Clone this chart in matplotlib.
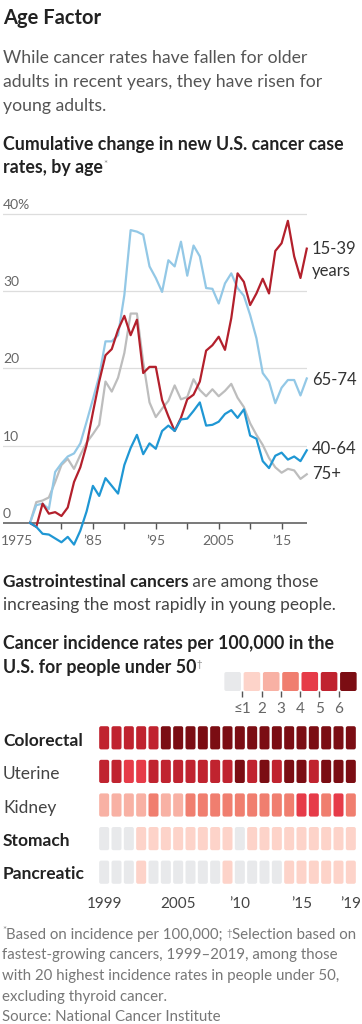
import numpy as np
import matplotlib
matplotlib.use('Agg')
import matplotlib.pyplot as plt
from matplotlib.patches import FancyBboxPatch
from matplotlib.colors import ListedColormap

plt.rcParams['font.family'] = ['Lato', 'DejaVu Sans']

# cumulative change in new cancer case rates, %
years = np.arange(1975, 2020)
age_15_39 = [0, -0.5, 2.5, 1.2, 1.4, 0.9, 2.0, 5.3, 7.2, 10.1,
             14.3, 18.3, 21.7, 22.5, 25.0, 26.8, 24.3, 26.3, 19.4, 20.2,
             20.2, 15.9, 13.8, 11.9, 13.6, 16.0, 16.6, 18.3, 22.3, 23.0,
             24.1, 22.4, 26.5, 32.3, 31.2, 28.2, 29.7, 31.6, 29.7, 35.2,
             36.2, 39.1, 34.5, 31.7, 35.5]
age_40_64 = [0, -0.5, -1.4, -1.5, -2.0, -2.5, -1.8, -2.8, -1.0, 1.5,
             4.8, 3.5, 5.8, 4.8, 3.8, 7.5, 9.7, 11.4, 8.9, 10.3,
             9.6, 11.9, 12.6, 11.9, 13.4, 13.5, 14.5, 15.6, 12.6, 12.7,
             13.1, 14.1, 14.6, 13.6, 14.7, 11.3, 10.9, 8.0, 7.1, 8.7,
             9.1, 8.2, 8.6, 8.0, 9.4]
age_65_74 = [0, 2.3, 2.5, 1.8, 6.6, 7.7, 8.6, 9.0, 10.3, 13.1,
             16.0, 19.0, 23.5, 23.5, 24.3, 29.5, 37.9, 37.7, 37.3, 33.2,
             31.7, 29.9, 34.0, 33.2, 36.4, 32.0, 35.9, 34.5, 30.4, 30.3,
             28.4, 31.0, 32.3, 30.4, 29.4, 26.9, 23.9, 19.4, 18.3, 15.5,
             17.5, 18.5, 18.5, 16.5, 18.7]
age_75_up = [0, 2.7, 2.9, 3.3, 5.3, 7.5, 8.3, 7.0, 8.8, 10.4,
             11.5, 12.7, 18.3, 17.0, 18.8, 22.0, 27.1, 27.1, 20.8, 15.6,
             13.7, 14.8, 15.8, 17.8, 16.0, 16.3, 18.6, 17.2, 16.4, 17.3,
             16.4, 17.1, 18.0, 16.2, 15.0, 12.9, 11.4, 10.1, 8.4, 7.2,
             6.5, 7.0, 6.8, 5.7, 6.3]

# incidence per 100,000 under 50, as legend bin (0 = <=1 ... 6 = 6+)
hm_years = np.arange(1999, 2020)
cancers = ['Colorectal', 'Uterine', 'Kidney', 'Stomach', 'Pancreatic']
bold_rows = [True, False, False, True, True]
colorectal = [5, 5, 5, 5, 5, 6, 6, 6, 6, 6, 6, 6, 6, 6, 6, 6, 6, 6, 6, 6, 6]
uterine = [5, 5, 4, 4, 5, 5, 5, 5, 5, 5, 5, 6, 5, 6, 5, 6, 6, 5, 6, 6, 6]
kidney = [2, 2, 2, 2, 3, 2, 2, 3, 3, 3, 3, 3, 3, 3, 3, 3, 4, 4, 3, 4, 3]
stomach = [0, 0, 0, 1, 1, 1, 1, 1, 1, 1, 1, 0, 1, 1, 1, 1, 1, 1, 1, 1, 1]
pancreatic = [0, 0, 0, 1, 0, 0, 0, 0, 0, 0, 1, 0, 0, 0, 0, 1, 1, 1, 1, 1, 1]
legend_labels = ['\u22641', '2', '3', '4', '5', '6']
level_colors = ['#e8e9eb', '#fdd3c9', '#f8b1a4', '#f07e6f', '#e63b48', '#c0232f', '#7b0d13']
cmap = ListedColormap(level_colors)

W, H = 362, 1024
fig = plt.figure(figsize=(W / 100, H / 100), dpi=100)


def px_rect(left, top, right, bottom):
    return [left / W, 1 - bottom / H, (right - left) / W, (bottom - top) / H]


# background axes in pixel coords, for all the loose text
bg = fig.add_axes([0, 0, 1, 1])
bg.set_xlim(0, W)
bg.set_ylim(H, 0)
bg.axis('off')

dark = '#222222'
mid = '#444444'
grey = '#666666'

bg.text(3, 24, 'Age Factor', fontsize=14.5, weight='bold', color=dark)
for y, s in zip([63, 87, 111], ['While cancer rates have fallen for older',
                                'adults in recent years, they have risen for',
                                'young adults.']):
    bg.text(3, y, s, fontsize=12.7, color='#555555')

bg.text(3, 150, 'Cumulative change in new U.S. cancer case', fontsize=12.8, weight='bold', color=dark)
t = bg.text(3, 173, 'rates, by age', fontsize=12.8, weight='bold', color=dark)
bg.annotate('*', xy=(1, 0.95), xycoords=t, va='top', fontsize=7, color='#888888')

# line chart
x0 = 1975 - 27 / 6.29
x1 = 1975 + 277 / 6.29
ax = fig.add_axes(px_rect(3, 210, 307, 550))
ax.patch.set_alpha(0)
ax.set_xlim(x0, x1)
ax.set_ylim(-3.5, 40.5)
for s in ax.spines.values():
    s.set_visible(False)
for v in [10, 20, 30, 40]:
    ax.axhline(v, color='#dddddd', lw=0.9, zorder=0)
ax.axhline(0, color='#555555', lw=1.1, zorder=1)
for v, s in zip([0, 10, 20, 30, 40], ['0', '10', '20', '30', '40%']):
    ax.text(x0, v + 0.4, s, fontsize=10, color=grey, va='bottom', ha='left')

ax.plot(years, age_75_up, color='#bdbdbd', lw=1.6, clip_on=False, zorder=2)
ax.plot(years, age_65_74, color='#93c8e6', lw=1.6, clip_on=False, zorder=3)
ax.plot(years, age_15_39, color='#b3202c', lw=1.6, clip_on=False, zorder=4)
ax.plot(years, age_40_64, color='#1f97d4', lw=1.6, clip_on=False, zorder=5)

lx = 1975 + 282 / 6.29
lab = dict(fontsize=12, color='#333333', va='center', clip_on=False)
ax.text(lx, 35.5, '15-39', **lab)
ax.text(lx, 32.6, 'years', **lab)
ax.text(lx, 18.5, '65-74', **lab)
ax.text(lx, 9.6, '40-64', **lab)
ax.text(lx, 6.3, '75+', **lab)

ax.set_yticks([])
ax.set_xticks(np.arange(1980, 2020, 5))
ax.set_xticklabels(['', '\u201985', '', '\u201995', '', '2005', '', '\u201915'])
ax.tick_params(axis='x', length=4, width=1, color='#555555', labelsize=10,
               labelcolor=grey, pad=5)
ax.xaxis.set_ticks_position('bottom')
ax.spines['bottom'].set_position(('data', 0))
ax.text(x0 - 0.3, -1.6, '1975', fontsize=10, color=grey, va='top', ha='left')

# second part
t = bg.text(3, 587, 'Gastrointestinal cancers', fontsize=12.4, weight='bold', color=dark)
bg.annotate(' are among those', xy=(1, 0), xycoords=t, va='bottom', fontsize=12.4, color=mid)
bg.text(3, 610, 'increasing the most rapidly in young people.', fontsize=12.4, color=mid)

bg.text(3, 649, 'Cancer incidence rates per 100,000 in the', fontsize=12.8, weight='bold', color=dark)
t = bg.text(3, 673, 'U.S. for people under 50', fontsize=12.8, weight='bold', color=dark)
bg.annotate('\u2020', xy=(1, 0.95), xycoords=t, va='top', fontsize=7, color='#888888')

# legend
lg = fig.add_axes(px_rect(223, 672, 358, 691))
lg.set_xlim(0, 7)
lg.set_ylim(1, 0)
for i, c in enumerate(level_colors):
    lg.add_patch(FancyBboxPatch((i + 0.07, 0), 0.86, 1, boxstyle='round,pad=0,rounding_size=0.1',
                                mutation_aspect=19.3 / 19, fc=c, ec='none'))
for s in lg.spines.values():
    s.set_visible(False)
lg.set_yticks([])
lg.set_xticks(np.arange(1, 7))
lg.set_xticklabels(legend_labels)
lg.tick_params(axis='x', length=4, width=1, color='#555555', labelsize=11,
               labelcolor=grey, pad=4)

# heatmap
hm = fig.add_axes(px_rect(98, 721, 357, 889))
hm.set_xlim(0, len(hm_years))
hm.set_ylim(len(cancers), 0)
rows = [colorectal, uterine, kidney, stomach, pancreatic]
for r, codes in enumerate(rows):
    for i, c in enumerate(codes):
        hm.add_patch(FancyBboxPatch((i + 0.095, r + 0.155), 0.81, 0.69,
                                    boxstyle='round,pad=0,rounding_size=0.16',
                                    mutation_aspect=12.33 / 33.5, fc=cmap(c), ec='none'))
for s in hm.spines.values():
    s.set_visible(False)
hm.set_yticks([])
tick_years = [1999, 2005, 2010, 2015, 2019]
hm.set_xticks([y - 1999 + 0.5 for y in tick_years])
hm.set_xticklabels(['1999', '2005', '\u201910', '\u201915', '\u201919'])
hm.tick_params(axis='x', length=0, labelsize=11, labelcolor=mid, pad=6)

for r, (name, b) in enumerate(zip(cancers, bold_rows)):
    bg.text(3, 746 + r * 33.3, name, fontsize=12.5, weight='bold' if b else 'normal',
            color=dark if b else mid)

# footnotes
fn = dict(fontsize=10.8, color='#777777')
bg.text(2, 933, '*', fontsize=7, color='#888888')
t = bg.text(6, 939, 'Based on incidence per 100,000; ', **fn)
t2 = bg.annotate('\u2020', xy=(1, 0.95), xycoords=t, va='top', fontsize=7, color='#888888')
bg.annotate('Selection based on', xy=(1, 939), xycoords=(t2, 'data'), **fn)
bg.text(2, 959, 'fastest-growing cancers, 1999\u20132019, among those', **fn)
bg.text(2, 980, 'with 20 highest incidence rates in people under 50,', **fn)
bg.text(2, 1001, 'excluding thyroid cancer.', **fn)
bg.text(2, 1021, 'Source: National Cancer Institute', **fn)

fig.savefig('out.png', dpi=100)
